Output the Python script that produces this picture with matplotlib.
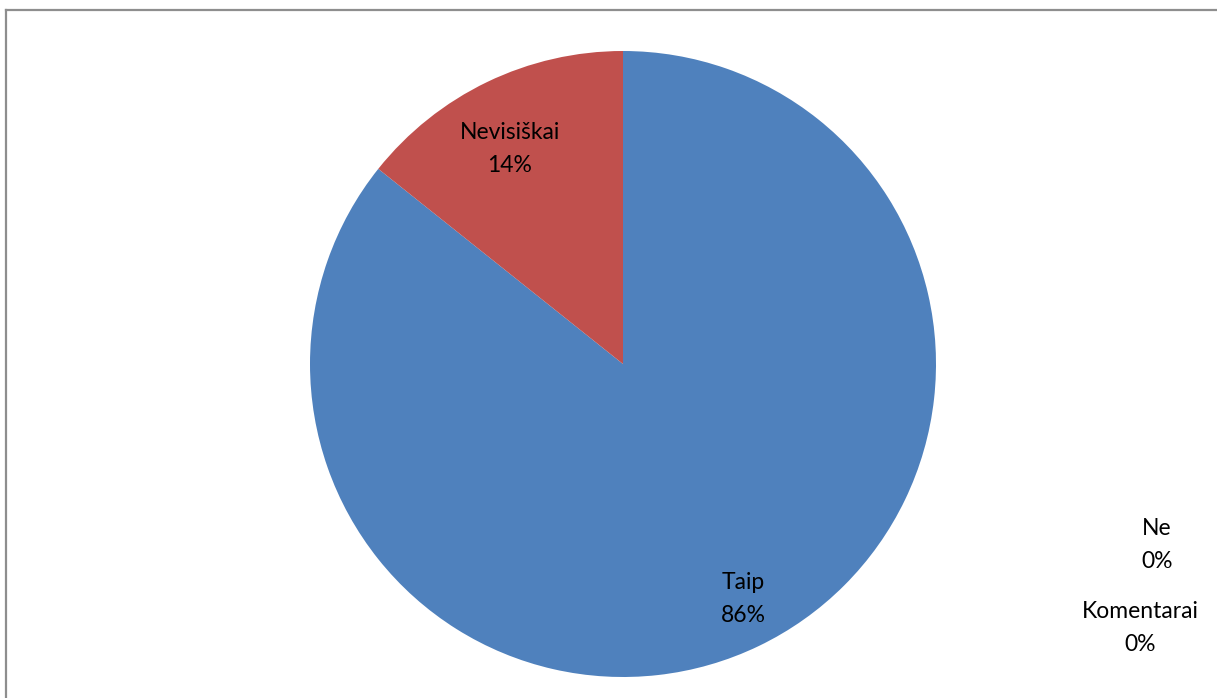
import matplotlib.pyplot as plt

# answers (counts)
labels = ['Taip', 'Ne', 'Komentarai', 'Nevisiškai']
counts = [6, 0, 0, 1]
colors = ['#4F81BD', '#C0504D', '#9BBB59', '#C0504D']

# label spots in axes data units (pie radius = 1)
label_pos = {
    'Taip': (0.383, -0.751),
    'Nevisiškai': (-0.361, 0.687),
    'Ne': (1.706, -0.578),
    'Komentarai': (1.652, -0.843),
}

plt.rcParams['font.family'] = ['Lato', 'DejaVu Sans']

fig = plt.figure(figsize=(12.17, 6.98), dpi=100)
fig.patch.set_facecolor('white')

# chart frame (only top and left show)
fig.add_artist(plt.Line2D([6 / 1217, 6 / 1217], [0, 1 - 10 / 698], color='#8e8e8e', lw=1.6))
fig.add_artist(plt.Line2D([6 / 1217, 1], [1 - 10 / 698, 1 - 10 / 698], color='#8e8e8e', lw=1.6))

ax = fig.add_axes([310 / 1217, 21 / 698, 626 / 1217, 626 / 698])
ax.pie(counts, colors=colors, startangle=90, counterclock=False,
       wedgeprops=dict(linewidth=0))
ax.set_xlim(-1, 1)
ax.set_ylim(-1, 1)
ax.set_aspect('equal')
ax.axis('off')

total = sum(counts)
for lab, c in zip(labels, counts):
    x, y = label_pos[lab]
    ax.text(x, y, f'{lab}\n{round(100 * c / total)}%', ha='center', va='center',
            fontsize=16.5, linespacing=1.72, color='black', clip_on=False)

fig.savefig('out.png', dpi=100, facecolor='white')
